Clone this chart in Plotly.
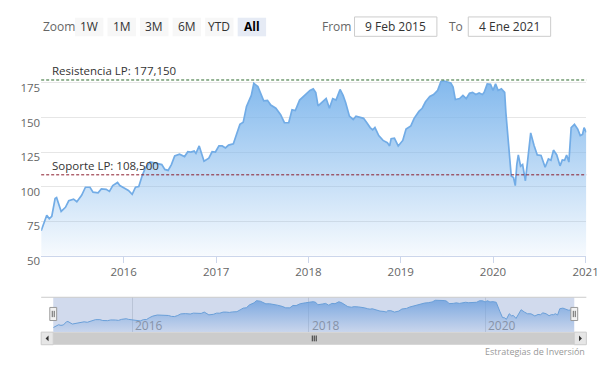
import plotly.graph_objects as go

# ---------------- data ----------------
dates = [
    "2015-02-09", "2015-03-03", "2015-03-13", "2015-03-23", "2015-04-05", "2015-04-11", "2015-04-29",
    "2015-05-16", "2015-05-29", "2015-06-17", "2015-06-30", "2015-07-19", "2015-08-03", "2015-08-21",
    "2015-09-02", "2015-09-22", "2015-10-05", "2015-10-24", "2015-11-06", "2015-11-19", "2015-12-08",
    "2015-12-17",
    "2016-01-03", "2016-01-20", "2016-02-04", "2016-02-17", "2016-03-01", "2016-03-14", "2016-03-27",
    "2016-04-15", "2016-05-05", "2016-05-31", "2016-06-12", "2016-06-25", "2016-07-08", "2016-07-21",
    "2016-08-09", "2016-08-29", "2016-09-11", "2016-09-23", "2016-10-06", "2016-10-13", "2016-10-26",
    "2016-11-14", "2016-12-03", "2016-12-16", "2016-12-29",
    "2017-01-12", "2017-01-25", "2017-02-07", "2017-02-19", "2017-03-10", "2017-03-23", "2017-04-05",
    "2017-04-18", "2017-05-01", "2017-05-20", "2017-05-30", "2017-06-15", "2017-06-28", "2017-07-08",
    "2017-07-23", "2017-08-05", "2017-08-25", "2017-09-13", "2017-09-28", "2017-10-15", "2017-10-28",
    "2017-11-10", "2017-11-27", "2017-12-18",
    "2018-01-07", "2018-01-20", "2018-01-30", "2018-02-08", "2018-02-27", "2018-03-12", "2018-03-25",
    "2018-04-07", "2018-04-20", "2018-05-06", "2018-05-18", "2018-05-28", "2018-06-12", "2018-06-27",
    "2018-07-08", "2018-07-25", "2018-08-07", "2018-08-20", "2018-09-02", "2018-09-12", "2018-09-21",
    "2018-10-06", "2018-10-23", "2018-11-09", "2018-11-18", "2018-11-24", "2018-12-07", "2018-12-22",
    "2019-01-09", "2019-01-22", "2019-02-10", "2019-02-23", "2019-03-14", "2019-03-27", "2019-04-09",
    "2019-04-26", "2019-05-11", "2019-05-27", "2019-06-09", "2019-06-22", "2019-07-04", "2019-07-18",
    "2019-07-27", "2019-08-05", "2019-08-22", "2019-09-04", "2019-09-17", "2019-09-30", "2019-10-12",
    "2019-10-25", "2019-11-07", "2019-11-20", "2019-11-27", "2019-12-09", "2019-12-22",
    "2020-01-01", "2020-01-11", "2020-01-21", "2020-02-03", "2020-02-16", "2020-02-21", "2020-03-02",
    "2020-03-13", "2020-03-22", "2020-03-29", "2020-04-04", "2020-04-10", "2020-04-19", "2020-04-27",
    "2020-05-08", "2020-05-19", "2020-05-29", "2020-06-11", "2020-06-24", "2020-07-09", "2020-07-25",
    "2020-08-07", "2020-08-17", "2020-08-27", "2020-09-09", "2020-09-22", "2020-10-01", "2020-10-10",
    "2020-10-18", "2020-10-27", "2020-11-05", "2020-11-18", "2020-12-01", "2020-12-11", "2020-12-20",
    "2020-12-26", "2021-01-04",
]
prices = [
    68, 79.2, 76.8, 78.5, 91.3, 92, 82, 85, 89.7, 90.9, 89, 93.7, 99.5, 99.5, 96, 95.5, 98.3, 98, 96.5,
    100.7, 103, 100.7,
    99, 97.2, 94.4, 99.5, 100, 107.7, 113.5, 117.8, 117, 115.9, 112.4, 111.7, 115.9, 122.2, 123.4, 121.7,
    125.2, 125, 125.7, 124, 129.4, 118.4, 120.6, 125.2, 125,
    129.4, 129.4, 128, 130, 131, 138, 145, 146.5, 158, 166, 174.7, 172.4, 166, 162, 162.4, 159, 156.7,
    152, 146.2, 146.2, 155.6, 155, 162.6, 166,
    169.6, 170.7, 168, 158.4, 161.4, 163.7, 156.7, 163.7, 162.6, 170.3, 166, 160.8, 151, 148.6, 151, 150,
    149.4, 146.2, 142.7, 141, 142.7, 136.9, 133.4, 131.8, 129.4, 134.6, 135, 129.4,
    133.4, 141.6, 143.9, 149.4, 154.4, 156.7, 161.4, 165.2, 166.6, 169.6, 176.1, 176.4, 175.7, 175, 172,
    163, 163.7, 166, 163.7, 167.5, 168.2, 166.6, 167.7, 166.6, 168.2, 174.3, 174,
    169.6, 174.3, 169.6, 170.7, 168.2, 153.2, 132.2, 107.7, 106.5, 100.7, 115.9, 122.9, 114.7, 115.9,
    104.2, 122.9, 138.8, 129.9, 122.9, 122.5, 114, 120, 119, 126.4, 122.9, 115, 119.3, 119, 122.9, 117.7,
    142.7, 145, 141.6, 136.9, 137.7, 142.7,
    139.2,
]
resistance = 177.15
support = 108.5
resistance_label = "Resistencia LP: 177,150"
support_label = "Soporte LP: 108,500"
y_ticks = [50, 75, 100, 125, 150, 175, 200]
y_ticktext = ["50", "75", "100", "125", "150", "175", ""]
nav_ticks = ["2016-01-01", "2018-01-01", "2020-01-01"]
nav_ticktext = ["2016", "2018", "2020"]
zoom_buttons = ["1W", "1M", "3M", "6M", "YTD", "All"]
from_text = "9 Feb 2015"
to_text = "4 Ene 2021"
credit = "Estrategias de Inversión"

# ---------------- layout helpers ----------------
W, H = 615, 379
FONT = "Open Sans, Noto Sans, sans-serif"


def px(x):
    return x / W


def py(y):
    return 1 - y / H


fig = go.Figure()

# main area series
fig.add_trace(go.Scatter(
    x=dates, y=prices, mode="lines", fill="tozeroy",
    line=dict(color="#72ace6", width=1.7),
    fillgradient=dict(type="vertical", start=50, stop=178,
                      colorscale=[[0, "rgba(124,181,236,0.03)"], [1, "rgba(124,181,236,0.95)"]]),
    hoverinfo="skip", showlegend=False, xaxis="x", yaxis="y",
))

# navigator series
fig.add_trace(go.Scatter(
    x=dates, y=prices, mode="lines", fill="tozeroy",
    line=dict(color="#6a9fd8", width=1),
    fillgradient=dict(type="vertical", start=50, stop=178,
                      colorscale=[[0, "rgba(110,160,222,0.05)"], [1, "rgba(110,160,222,0.85)"]]),
    hoverinfo="skip", showlegend=False, xaxis="x2", yaxis="y2",
))

shapes = []
annotations = []

# plot lines (resistance / support)
for val, col, lab in [(resistance, "#2e6b2e", resistance_label), (support, "#8b1c2c", support_label)]:
    shapes.append(dict(type="line", xref="paper", yref="y", x0=px(42), x1=px(598), y0=val, y1=val,
                       line=dict(color=col, width=1, dash="3px,2px")))
    annotations.append(dict(xref="paper", yref="y", x=px(51), y=val, text=lab, showarrow=False,
                            xanchor="left", yanchor="bottom", yshift=0,
                            font=dict(family=FONT, size=11.5, color="#333333")))

# range selector
annotations.append(dict(xref="paper", yref="paper", x=px(42), y=py(27.5), text="Zoom", showarrow=False,
                        xanchor="left", yanchor="middle", font=dict(family=FONT, size=12, color="#666666")))
bx0 = 76.4
for i, b in enumerate(zoom_buttons):
    x0 = bx0 + i * 33.2
    x1 = x0 + 29
    sel = (b == "All")
    shapes.append(dict(type="rect", xref="paper", yref="paper", x0=px(x0), x1=px(x1), y0=py(37.5),
                       y1=py(18.3), fillcolor="#e6ebf5" if sel else "#f7f7f7", line=dict(width=0)))
    annotations.append(dict(xref="paper", yref="paper", x=px((x0 + x1) / 2), y=py(27.5),
                            text=f"<b>{b}</b>" if sel else b, showarrow=False, xanchor="center",
                            yanchor="middle",
                            font=dict(family=FONT, size=12, color="#000000" if sel else "#333333")))

annotations.append(dict(xref="paper", yref="paper", x=px(326.5), y=py(27.5), text="From", showarrow=False,
                        xanchor="left", yanchor="middle", font=dict(family=FONT, size=12, color="#666666")))
annotations.append(dict(xref="paper", yref="paper", x=px(455.5), y=py(27.5), text="To", showarrow=False,
                        xanchor="left", yanchor="middle", font=dict(family=FONT, size=12, color="#666666")))
for (x0, x1, t) in [(361.6, 445.6, from_text), (477.6, 561.6, to_text)]:
    shapes.append(dict(type="rect", xref="paper", yref="paper", x0=px(x0), x1=px(x1), y0=py(37.5),
                       y1=py(17.5), fillcolor="#ffffff", line=dict(color="#cccccc", width=1)))
    annotations.append(dict(xref="paper", yref="paper", x=px((x0 + x1) / 2), y=py(27.5), text=t,
                            showarrow=False, xanchor="center", yanchor="middle",
                            font=dict(family=FONT, size=12, color="#333333")))

# navigator mask and outline
shapes.append(dict(type="rect", xref="paper", yref="paper", x0=px(54.3), x1=px(585.7), y0=py(343),
                   y1=py(307), fillcolor="rgba(102,133,194,0.3)", line=dict(width=0), layer="below"))
shapes.append(dict(type="line", xref="paper", yref="paper", x0=px(42), x1=px(598), y0=py(307), y1=py(307),
                   line=dict(color="#cccccc", width=1)))

# navigator axis labels (inside, right of grid lines)
for d, t in zip(nav_ticks, nav_ticktext):
    annotations.append(dict(xref="x2", yref="paper", x=d, y=py(336), text=t, showarrow=False,
                            xanchor="left", yanchor="middle", xshift=1,
                            font=dict(family=FONT, size=12, color="#8793a8")))

# scrollbar
shapes.append(dict(type="rect", xref="paper", yref="paper", x0=px(42), x1=px(598), y0=py(356),
                   y1=py(343), fillcolor="#f2f2f2", line=dict(width=0)))
shapes.append(dict(type="rect", xref="paper", yref="paper", x0=px(54.3), x1=px(585.7), y0=py(356),
                   y1=py(343), fillcolor="#cccccc", line=dict(width=0)))
for (x0, x1) in [(42, 54.3), (585.7, 598)]:
    shapes.append(dict(type="rect", xref="paper", yref="paper", x0=px(x0), x1=px(x1), y0=py(356),
                       y1=py(343), fillcolor="#e6e6e6", line=dict(color="#cccccc", width=1)))
# arrows
cy = 349.5
shapes.append(dict(type="path", xref="paper", yref="paper",
                   path=f"M {px(46.5)} {py(cy)} L {px(49.5)} {py(cy - 3)} L {px(49.5)} {py(cy + 3)} Z",
                   fillcolor="#333333", line=dict(width=0)))
shapes.append(dict(type="path", xref="paper", yref="paper",
                   path=f"M {px(593.5)} {py(cy)} L {px(590.5)} {py(cy - 3)} L {px(590.5)} {py(cy + 3)} Z",
                   fillcolor="#333333", line=dict(width=0)))
# grip
for gx in [318.5, 320.5, 322.5]:
    shapes.append(dict(type="line", xref="paper", yref="paper", x0=px(gx), x1=px(gx), y0=py(346.5),
                       y1=py(352.5), line=dict(color="#333333", width=1)))

# navigator handles
for hx in [54.3, 585.7]:
    shapes.append(dict(type="rect", xref="paper", yref="paper", x0=px(hx - 3.5), x1=px(hx + 3.5),
                       y0=py(331), y1=py(317.5), fillcolor="#f2f2f2", line=dict(color="#999999", width=1)))
    for dx in [-1, 1]:
        shapes.append(dict(type="line", xref="paper", yref="paper", x0=px(hx + dx), x1=px(hx + dx),
                           y0=py(321), y1=py(327.5), line=dict(color="#666666", width=1)))

annotations.append(dict(xref="paper", yref="paper", x=px(598.5), y=py(363), text=credit, showarrow=False,
                        xanchor="right", yanchor="middle", font=dict(family=FONT, size=9, color="#999999")))

fig.update_layout(
    width=W, height=H, autosize=False,
    margin=dict(l=0, r=0, t=0, b=0, pad=0),
    paper_bgcolor="#ffffff", plot_bgcolor="rgba(0,0,0,0)",
    font=dict(family=FONT, size=11, color="#666666"),
    showlegend=False,
    xaxis=dict(domain=[px(42), px(598)], range=["2015-02-09", "2021-01-04"], type="date",
               tick0="2016-01-01", dtick="M12", tickformat="%Y", showgrid=False, zeroline=False,
               showline=True, linecolor="#ccd6eb", linewidth=1, ticks="outside", ticklen=6,
               tickcolor="#ccd6eb", tickfont=dict(family=FONT, size=11.5, color="#666666"),
               anchor="y", fixedrange=True),
    yaxis=dict(domain=[py(264), py(50)], range=[50, 200], tickvals=y_ticks, ticktext=y_ticktext,
               showgrid=True, gridcolor="#e6e6e6", gridwidth=1, zeroline=False, showline=False,
               ticks="", ticklabelshift=5, ticklabelstandoff=0,
               tickfont=dict(family=FONT, size=11.5, color="#666666"), anchor="x", fixedrange=True),
    xaxis2=dict(domain=[px(54.3), px(585.7)], range=["2015-02-09", "2021-01-04"], type="date",
                tickvals=nav_ticks, showticklabels=False, showgrid=True,
                gridcolor="rgba(120,130,150,0.25)", zeroline=False, showline=False, ticks="",
                anchor="y2", fixedrange=True),
    yaxis2=dict(domain=[py(343), py(307)], range=[50, 188], visible=False, showgrid=False,
                anchor="x2", fixedrange=True),
    shapes=shapes,
    annotations=annotations,
)

fig.write_html(
    "out.html",
    config={"displayModeBar": False, "staticPlot": True},
    post_script="document.documentElement.style.margin='0';document.body.style.margin='0';"
                "document.body.style.overflow='hidden';",
)
